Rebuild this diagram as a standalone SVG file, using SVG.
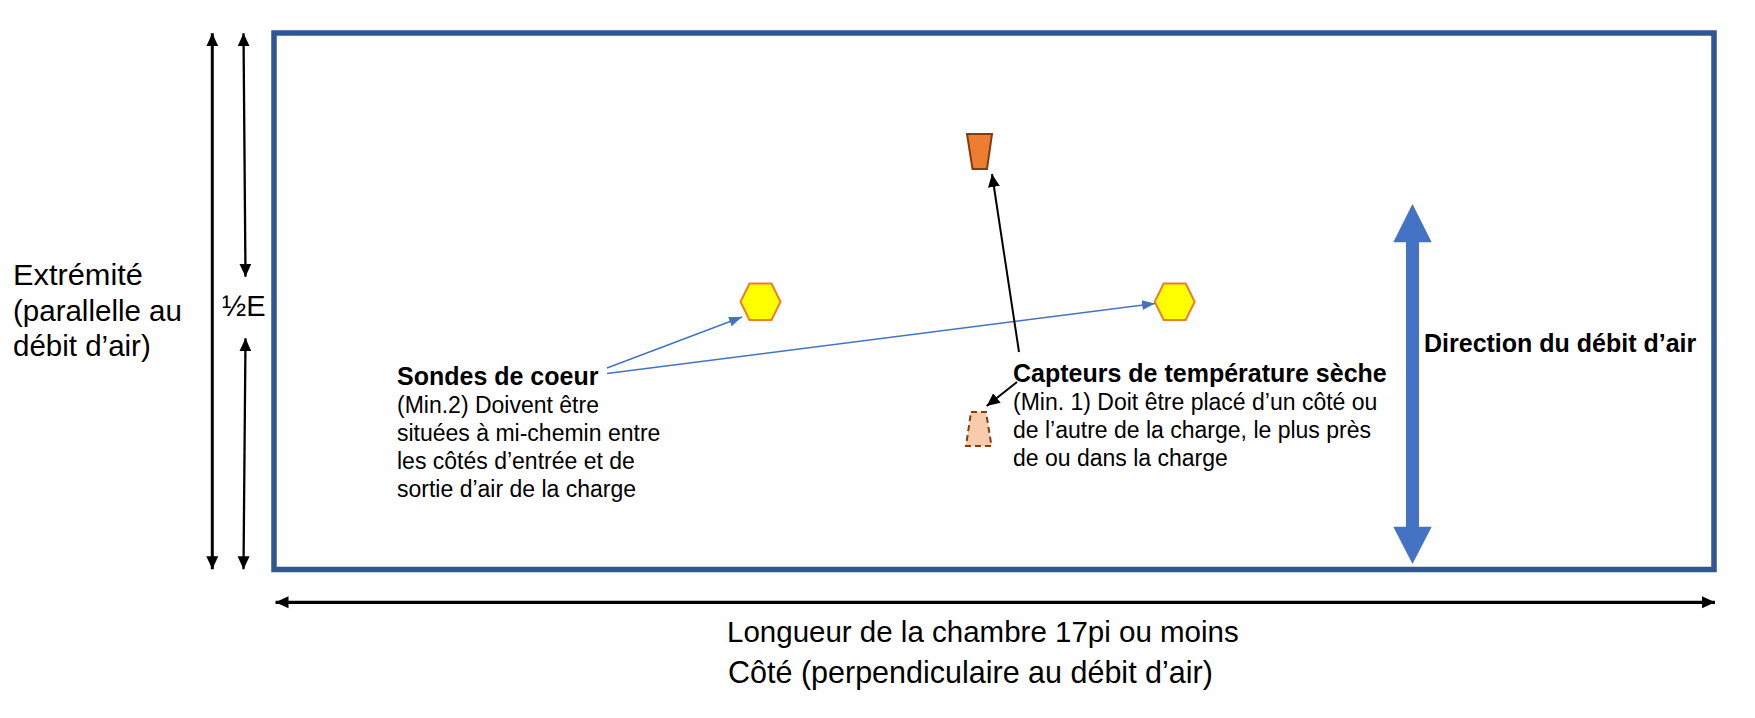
<svg xmlns="http://www.w3.org/2000/svg" width="1755" height="718" viewBox="0 0 1755 718">
<style>
text{font-family:"Liberation Sans",Arial,sans-serif;fill:#000}
.b{font-weight:bold;font-size:25px}
.r{font-size:23px}
.big{font-size:29.5px}
.blk{stroke:#000;fill:none}
.blu{stroke:#4472C4;stroke-width:1.5;fill:none}
.hex{fill:#FFFF00;stroke:#ED7D31;stroke-width:2}
</style>
<defs>
<marker id="ah" markerUnits="userSpaceOnUse" markerWidth="14" markerHeight="14" viewBox="0 0 14 14" refX="13" refY="7" orient="auto-start-reverse"><path d="M0,1 L13,7 L0,13 z" fill="#000"/></marker>
<marker id="ab" markerUnits="userSpaceOnUse" markerWidth="14" markerHeight="12" viewBox="0 0 14 12" refX="13" refY="6" orient="auto"><path d="M0,1 L13,6 L0,11 z" fill="#4472C4"/></marker>
</defs>
<g id="chamber"><rect x="274" y="33" width="1440" height="536.5" fill="#fff" stroke="#2F5597" stroke-width="5.5"/></g>
<g id="dimensions">
<line class="blk" x1="212.3" y1="33.3" x2="212.3" y2="569.3" stroke-width="3" marker-start="url(#ah)" marker-end="url(#ah)"/>
<line class="blk" x1="243.5" y1="33.3" x2="245.5" y2="276.7" stroke-width="2.3" marker-start="url(#ah)" marker-end="url(#ah)"/>
<line class="blk" x1="245.5" y1="338.3" x2="243.5" y2="569.3" stroke-width="2.3" marker-start="url(#ah)" marker-end="url(#ah)"/>
<line class="blk" x1="275.5" y1="602.3" x2="1715" y2="602.3" stroke-width="3.3" marker-start="url(#ah)" marker-end="url(#ah)"/>
</g>
<g id="label-extremite">
<text class="big" x="13" y="285" textLength="130" lengthAdjust="spacingAndGlyphs">Extrémité</text>
<text class="big" x="13" y="320.5">(parallelle au</text>
<text class="big" x="13" y="356">débit d’air)</text>
</g>
<g id="label-half"><text x="222" y="316" font-size="29">½E</text></g>
<g id="label-length">
<text class="big" x="727" y="642">Longueur de la chambre 17pi ou moins</text>
<text x="728" y="683" font-size="30.5">Côté (perpendiculaire au débit d’air)</text>
</g>
<g id="airflow">
<polygon points="1412.5,204 1431.7,242.3 1419,242.3 1419,526.7 1431.7,526.7 1412.5,564 1393.3,526.7 1406,526.7 1406,242.3 1393.3,242.3" fill="#4472C4"/>
<text class="b" x="1424" y="352">Direction du débit d’air</text>
</g>
<g id="probe-1"><polygon class="hex" points="749.5,283.5 771.5,283.5 780.5,301.7 771.5,320 749.5,320 740.5,301.7"/></g>
<g id="probe-2"><polygon class="hex" points="1163.7,283.5 1185.7,283.5 1194.7,301.7 1185.7,320 1163.7,320 1154.7,301.7"/></g>
<g id="sensor-top"><polygon points="967,134 992,134 987,169 972.5,169" fill="#ED7D31" stroke="#843C0C" stroke-width="2"/></g>
<g id="sensor-bottom"><polygon points="971,412 986,412 991.5,446 966,446" fill="#F8CBAD" stroke="#843C0C" stroke-width="2" stroke-dasharray="6,4"/></g>
<g id="label-sondes">
<text class="b" x="397" y="385">Sondes de coeur</text>
<text class="r" x="397" y="413">(Min.2) Doivent être</text>
<text class="r" x="397" y="441">situées à mi-chemin entre</text>
<text class="r" x="397" y="469">les côtés d’entrée et de</text>
<text class="r" x="397" y="497">sortie d’air de la charge</text>
</g>
<g id="label-capteurs">
<text class="b" x="1013" y="382">Capteurs de température sèche</text>
<text class="r" x="1013" y="410">(Min. 1) Doit être placé d’un côté ou</text>
<text class="r" x="1013" y="438">de l’autre de la charge, le plus près</text>
<text class="r" x="1013" y="466">de ou dans la charge</text>
</g>
<g id="connectors">
<line class="blu" x1="607" y1="368" x2="742" y2="317" marker-end="url(#ab)"/>
<line class="blu" x1="607" y1="373.5" x2="1155" y2="303.5" marker-end="url(#ab)"/>
<line class="blk" x1="1019" y1="352" x2="992" y2="174" stroke-width="2" marker-end="url(#ah)"/>
<line class="blk" x1="1017" y1="382" x2="986.7" y2="406" stroke-width="2" marker-end="url(#ah)"/>
</g>
</svg>
